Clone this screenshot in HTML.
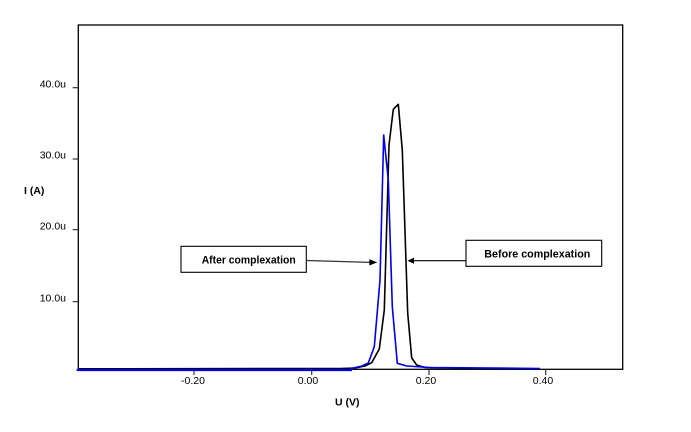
<!DOCTYPE html>
<html><head><meta charset="utf-8"><style>
html,body{margin:0;padding:0;background:#fff;}
svg{display:block;}
text{font-family:"Liberation Sans",Arial,sans-serif;fill:#000;}
</style></head><body>
<svg width="691" height="432" viewBox="0 0 691 432" xmlns="http://www.w3.org/2000/svg">
<rect x="0" y="0" width="691" height="432" fill="#fff"/>
<!-- frame -->
<rect x="78.3" y="25" width="544.4" height="344.3" fill="none" stroke="#000" stroke-width="1.3"/>
<!-- y ticks -->
<g stroke="#333" stroke-width="1.2">
<line x1="72.7" y1="87.7" x2="78.3" y2="87.7"/>
<line x1="72.7" y1="159" x2="78.3" y2="159"/>
<line x1="72.7" y1="229.7" x2="78.3" y2="229.7"/>
<line x1="72.7" y1="301.7" x2="78.3" y2="301.7"/>
<line x1="194" y1="369.3" x2="194" y2="375"/>
<line x1="311.7" y1="369.3" x2="311.7" y2="375"/>
<line x1="429" y1="369.3" x2="429" y2="375"/>
<line x1="545.7" y1="369.3" x2="545.7" y2="375"/>
</g>
<g font-size="10.5" text-anchor="end">
<text x="66" y="87.3">40.0u</text>
<text x="66" y="158.6">30.0u</text>
<text x="66" y="229.3">20.0u</text>
<text x="66" y="301.3">10.0u</text>
</g>
<g font-size="10.5" text-anchor="middle">
<text x="193" y="384">-0.20</text>
<text x="308" y="384">0.00</text>
<text x="426" y="384">0.20</text>
<text x="543" y="384">0.40</text>
</g>
<text x="24" y="194" font-size="10.5" font-weight="bold">I (A)</text>
<text x="335" y="405.5" font-size="10.5" font-weight="bold">U (V)</text>
<!-- black curve -->
<polyline fill="none" stroke="#000" stroke-width="1.6" stroke-linejoin="round"
points="78,368.8 340,368.5 355,368 365,366 371.7,362.7 379.3,349 384.3,310 389,145 393.3,109.3 398.3,104.3 402.3,150 407.7,313 411.7,358 416.7,365 425,367.5 470,368.5 540,368.8"/>
<!-- blue curve -->
<polyline fill="none" stroke="#0000e6" stroke-width="1.6" stroke-linejoin="round"
points="350,368.8 362,366 368.3,363 374.3,346.7 380,280 383.7,135 388.3,180 392.3,306.7 397.3,363.3 406.7,366 430,367.5 540,368.5"/>
<line x1="76.7" y1="370" x2="352" y2="370" stroke="#0000e6" stroke-width="2.2"/>
<!-- After complexation -->
<rect x="181" y="246.3" width="125.3" height="26" fill="#fff" stroke="#000" stroke-width="1.1"/>
<text x="201.7" y="263.5" font-size="11" font-weight="bold" textLength="94" lengthAdjust="spacingAndGlyphs">After complexation</text>
<line x1="306.3" y1="260.5" x2="370" y2="262.4" stroke="#333" stroke-width="1.2"/>
<polygon points="369.3,259.2 377.3,262.4 369.3,265.5" fill="#000"/>
<!-- Before complexation -->
<rect x="466" y="240.3" width="135.7" height="26" fill="#fff" stroke="#000" stroke-width="1.1"/>
<text x="484.3" y="257.7" font-size="11" font-weight="bold" textLength="106" lengthAdjust="spacingAndGlyphs">Before  complexation</text>
<line x1="413" y1="260.7" x2="466" y2="260.7" stroke="#000" stroke-width="1.1"/>
<polygon points="407.5,260.7 414,257.6 414,263.8" fill="#000"/>
</svg>
</body></html>
